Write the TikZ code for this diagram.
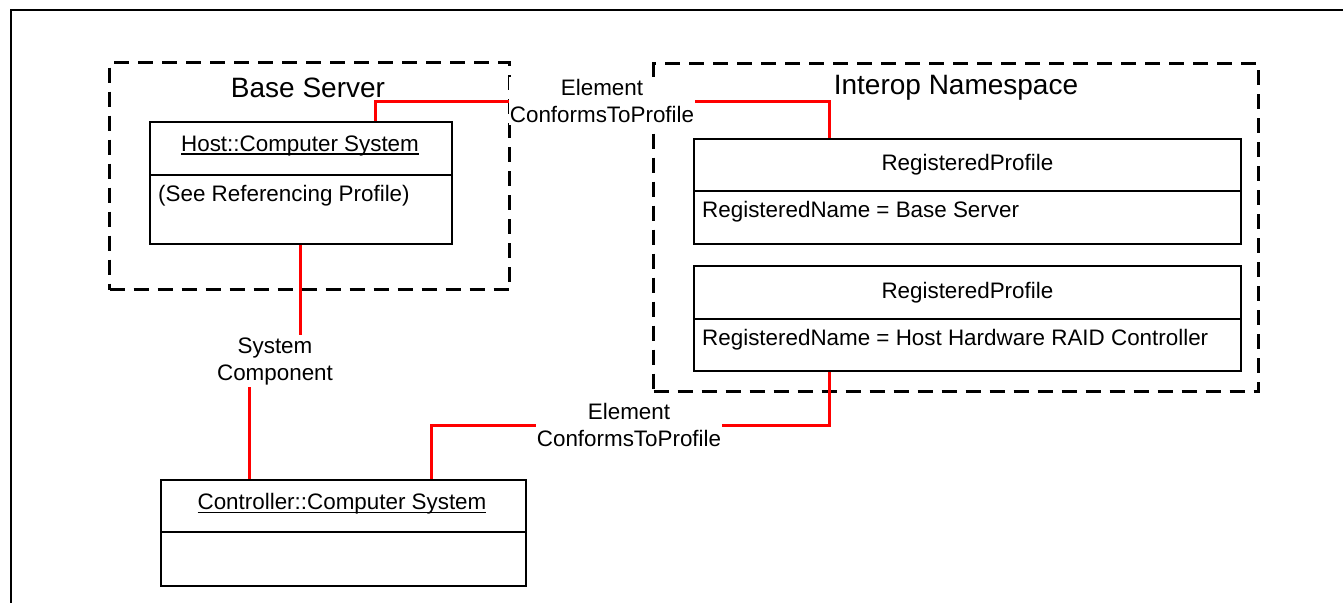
\documentclass[tikz,border=0pt]{standalone}
\usepackage{fontspec}
\setmainfont{Liberation Sans}
\newcommand{\bodyfont}{\fontsize{22.4}{27}\selectfont}
\newcommand{\titlefont}{\fontsize{28}{32}\selectfont}
\newcommand{\myul}[1]{\setbox0\hbox{#1}\rlap{\rule[-3pt]{\wd0}{1.3pt}}\box0}
\begin{document}
\begin{tikzpicture}[x=1pt,y=-1pt,
  frameline/.style={line width=2.2pt},
  pkg/.style={draw, line width=3pt, dash pattern=on 15pt off 9pt, inner sep=0pt, anchor=north west},
  cls/.style={draw, line width=1.8pt, inner sep=0pt, anchor=north west, font=\bodyfont},
  link/.style={draw=red, line width=3pt},
  lbl/.style={fill=white, align=center, inner xsep=0.5pt, inner ysep=2pt, font=\bodyfont},
  ptitle/.style={font=\titlefont, inner sep=0pt},
  attr/.style={anchor=west, font=\bodyfont, inner sep=0pt}
]
\useasboundingbox (0,0) rectangle (1343,603);
% outer frame
\coordinate (fr1) at (1343,10);
\coordinate (fr2) at (11,10);
\coordinate (fr3) at (11,603);
\draw[frameline] (fr1) -- (fr2) -- (fr3);

% packages
\node[pkg, minimum width=400pt, minimum height=227pt] (base) at (108,61) {};
\node[pkg, minimum width=605pt, minimum height=328pt] (interop) at (652,62) {};
\node[ptitle] (baseT) at (308,88) {Base Server};
\node[ptitle] (interopT) at (956,88) {Interop Namespace};

% classes
\node[cls, minimum width=302pt, minimum height=53pt] (hostT) at (149,121) {};
\node[font=\bodyfont, inner sep=0pt] (hostN) at (300,146) {\myul{Host::Computer System}};
\node[cls, minimum width=302pt, minimum height=69pt] (hostB) at (149,174) {};
\node[attr] (hostA) at (158,196) {(See Referencing Profile)};

\node[cls, minimum width=547pt, minimum height=52pt] (rp1T) at (693,138) {RegisteredProfile};
\node[cls, minimum width=547pt, minimum height=53pt] (rp1B) at (693,190) {};
\node[attr] (rp1A) at (702,212) {RegisteredName = Base Server};

\node[cls, minimum width=547pt, minimum height=53pt] (rp2T) at (693,265) {RegisteredProfile};
\node[cls, minimum width=547pt, minimum height=52pt] (rp2B) at (693,318) {};
\node[attr] (rp2A) at (702,340) {RegisteredName = Host Hardware RAID Controller};

\node[cls, minimum width=365pt, minimum height=52pt] (ctrlT) at (160,479) {};
\node[font=\bodyfont, inner sep=0pt] (ctrlN) at (342,504) {\myul{Controller::Computer System}};
\node[cls, minimum width=365pt, minimum height=54pt] (ctrlB) at (160,531) {};

% connectors
\draw[link] ([xshift=75pt]hostT.north) -- ++(0,-20) -| ([xshift=-137.5pt]rp1T.north);
\draw[link] (hostB.south) -- ++(0,118) -| ([xshift=-93.5pt]ctrlT.north);
\draw[link] ([xshift=-137.5pt]rp2B.south) -- ++(0,54) -| ([xshift=88.5pt]ctrlT.north);

% labels
\node[lbl] (ecp1) at (602,101) {Element\\ConformsToProfile};
\node[lbl] (sc) at (275,361) {System\\Component};
\node[lbl] (ecp2) at (629,425) {Element\\ConformsToProfile};
\end{tikzpicture}
\end{document}
